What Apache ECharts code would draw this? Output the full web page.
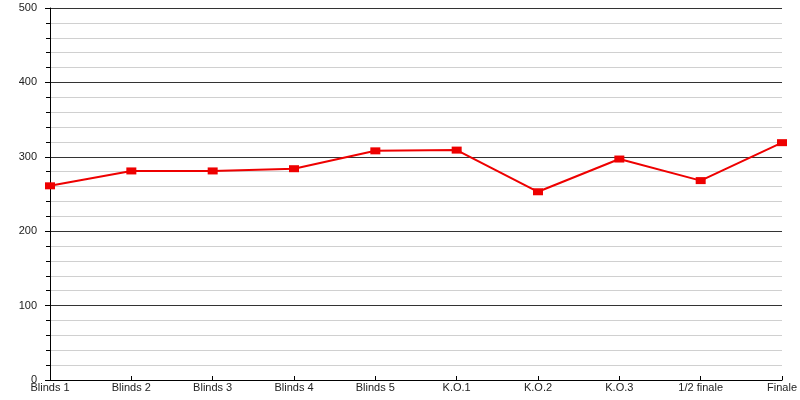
<!DOCTYPE html>
<html>
<head>
<meta charset="utf-8">
<script src="https://cdn.jsdelivr.net/npm/echarts@6/dist/echarts.min.js"></script>
<style>html,body{margin:0;padding:0;background:#fff}#c{width:800px;height:400px}</style>
</head>
<body>
<div id="c"></div>
<script>
var categories = ["Blinds 1","Blinds 2","Blinds 3","Blinds 4","Blinds 5","K.O.1","K.O.2","K.O.3","1/2 finale","Finale"];
var values = [261, 281, 281, 284, 308, 309, 253, 297, 268, 319];
var yTicks = [0, 100, 200, 300, 400, 500];

var chart = echarts.init(document.getElementById('c'), null, {renderer: 'canvas'});
chart.setOption({
  animation: false,
  backgroundColor: '#ffffff',
  grid: {left: 50, right: 14, top: 8, bottom: 20, containLabel: false},
  xAxis: {
    type: 'category',
    data: categories,
    boundaryGap: false,
    axisLine: {lineStyle: {color: '#000', width: 1}},
    axisTick: {show: true, inside: true, length: 4, lineStyle: {color: '#000'}},
    axisLabel: {color: '#222', fontFamily: 'Liberation Sans, Arial, sans-serif', fontSize: 11, margin: 2, interval: 0},
    splitLine: {show: false}
  },
  yAxis: {
    type: 'value',
    min: yTicks[0],
    max: yTicks[yTicks.length - 1],
    interval: 100,
    axisLine: {show: true, lineStyle: {color: '#000', width: 1}},
    axisTick: {show: true, length: 5, lineStyle: {color: '#000'}},
    minorTick: {show: true, splitNumber: 5, length: 4, lineStyle: {color: '#000'}},
    axisLabel: {color: '#222', fontFamily: 'Liberation Sans, Arial, sans-serif', fontSize: 11, margin: 13},
    splitLine: {show: true, lineStyle: {color: '#333', width: 1}},
    minorSplitLine: {show: true, lineStyle: {color: '#d0d0d0', width: 1}}
  },
  series: [{
    type: 'line',
    data: values,
    symbol: 'rect',
    symbolSize: [10, 7],
    showAllSymbol: true,
    lineStyle: {color: '#ee0000', width: 2},
    itemStyle: {color: '#ee0000'},
    z: 5
  }]
});
</script>
</body>
</html>
